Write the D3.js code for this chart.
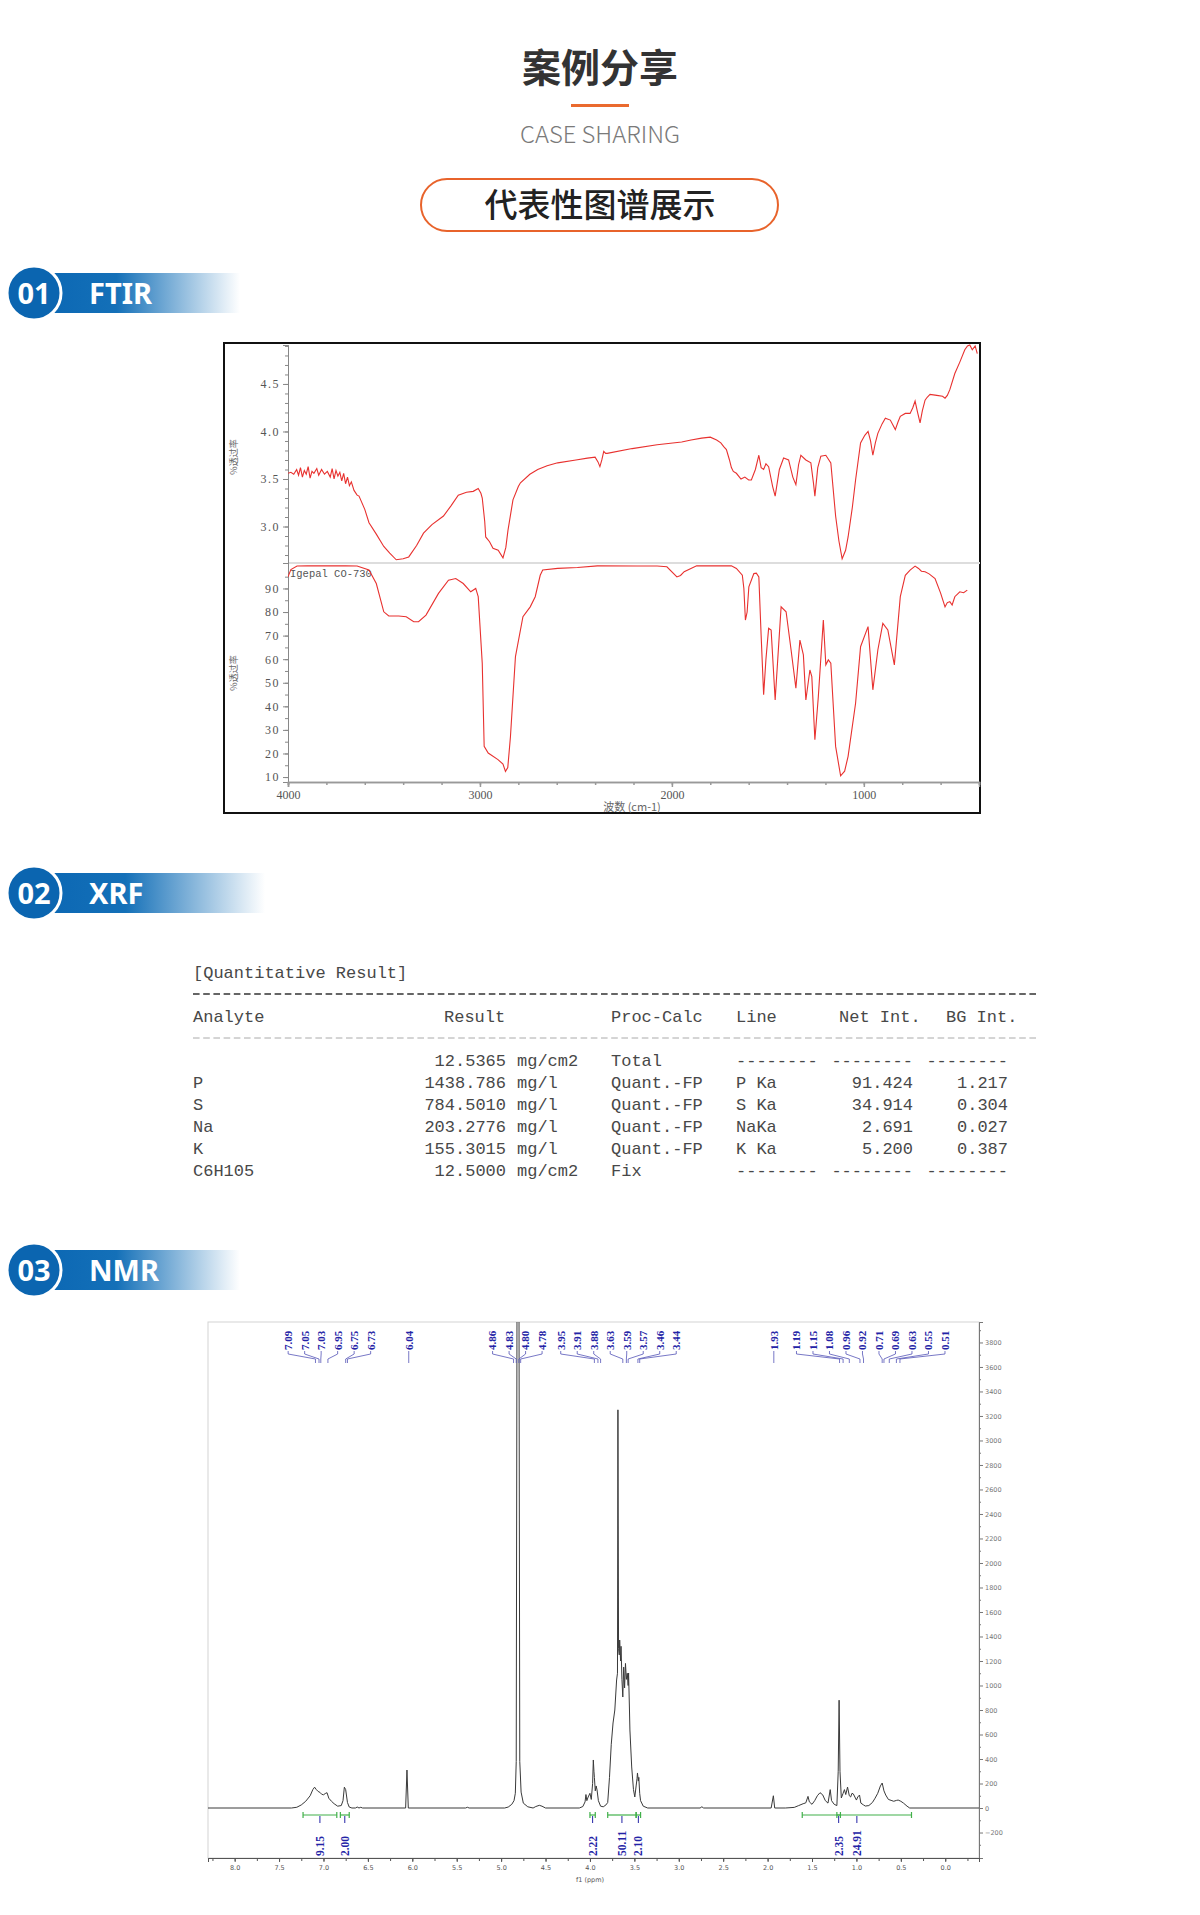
<!DOCTYPE html>
<html>
<head>
<meta charset="utf-8">
<script src="https://cdn.jsdelivr.net/npm/d3@7"></script>
<style>
  body { margin: 0; background: #fff; }
  svg { display: block; }
</style>
</head>
<body>
<svg id="page" width="1200" height="1915"></svg>
<script>
// ---------- FTIR: sample spectrum (top panel) ----------
const ftirTopWave = [4000,3985,3970,3955,3945,3935,3925,3915,3905,3895,3885,3875,3865,3850,3840,3825,3810,3795,3780,3770,3760,3750,3740,3730,3720,3710,3700,3690,3680,3670,3656,3640,3630,3600,3578,3540,3501,3470,3436,3400,3371,3330,3294,3250,3190,3150,3113,3070,3035,3009,2995,2988,2975,2970,2950,2932,2905,2880,2865,2854,2828,2800,2789,2740,2699,2650,2595,2500,2440,2400,2385,2375,2365,2355,2345,2337,2207,2077,1949,1900,1845,1800,1767,1745,1730,1716,1700,1690,1680,1664,1640,1620,1600,1586,1565,1547,1535,1522,1510,1496,1475,1462,1440,1418,1392,1370,1354,1340,1328,1302,1276,1262,1255,1240,1224,1198,1172,1147,1130,1113,1095,1082,1060,1043,1017,995,978,965,953,940,927,905,888,862,836,822,810,784,759,745,733,720,707,695,681,670,655,620,590,577,565,552,526,500,474,460,448,435,420,409];
const ftirTopVal = [3.56,3.57,3.55,3.60,3.54,3.62,3.52,3.59,3.55,3.63,3.51,3.58,3.56,3.61,3.54,3.60,3.55,3.58,3.52,3.61,3.50,3.59,3.53,3.57,3.48,3.56,3.45,3.52,3.43,3.47,3.38,3.33,3.32,3.18,3.04,2.92,2.79,2.72,2.65,2.66,2.68,2.80,2.93,3.02,3.11,3.22,3.33,3.36,3.37,3.40,3.35,3.30,3.05,2.89,2.84,2.77,2.75,2.67,2.78,2.96,3.28,3.42,3.46,3.55,3.60,3.64,3.67,3.70,3.72,3.73,3.68,3.63,3.70,3.79,3.77,3.77,3.82,3.86,3.89,3.91,3.93,3.94,3.91,3.88,3.84,3.81,3.70,3.62,3.58,3.56,3.50,3.52,3.49,3.49,3.60,3.75,3.62,3.60,3.66,3.63,3.42,3.32,3.60,3.72,3.70,3.52,3.44,3.65,3.75,3.70,3.67,3.45,3.32,3.62,3.74,3.75,3.67,3.11,2.85,2.66,2.75,2.89,3.20,3.49,3.88,3.96,4.00,3.90,3.75,3.88,3.98,4.08,4.14,4.12,4.02,4.10,4.16,4.19,4.19,4.25,4.32,4.20,4.09,4.22,4.33,4.36,4.39,4.38,4.37,4.35,4.38,4.44,4.61,4.73,4.86,4.90,4.91,4.86,4.90,4.82];

// ---------- FTIR: Igepal CO-730 reference (bottom panel, %T) ----------
const ftirBotWave = [4000,3985,3953,3900,3800,3700,3640,3578,3540,3501,3475,3423,3384,3345,3320,3281,3216,3164,3126,3087,3048,3022,3009,2988,2978,2957,2906,2880,2867,2855,2841,2815,2776,2738,2712,2686,2673,2595,2492,2388,2181,2077,2026,1974,1955,1936,1871,1690,1664,1633,1625,1617,1608,1599,1573,1560,1547,1535,1522,1510,1496,1483,1462,1431,1405,1379,1354,1333,1315,1302,1281,1271,1255,1237,1211,1198,1185,1172,1147,1121,1100,1082,1043,1017,978,953,927,901,875,841,810,784,759,733,715,700,681,660,629,600,577,565,552,540,526,500,480,461];
const ftirBotVal = [94.9,98.0,99.5,99.6,99.6,99.6,99.5,97.8,92.1,80.1,78.3,78.3,78.0,75.9,75.9,78.7,87.9,93.5,94.2,92.1,88.6,90.0,86.5,58.3,23.0,20.2,17.4,15.5,12.4,14.0,27.2,61.1,78.0,82.2,86.5,95.6,97.8,98.5,98.9,99.6,99.5,99.5,99.2,94.9,95.5,97.1,99.6,99.6,98.5,95.6,90.0,76.6,80.0,90.7,96.3,96.5,94.9,70.0,44.9,60.0,73.1,72.4,42.7,82.2,80.1,63.9,47.7,68.1,61.8,42.7,55.4,52.6,25.8,44.2,76.6,57.6,59.7,58.3,23.0,10.5,12.5,18.8,41.3,65.3,73.8,47.0,63.9,75.2,72.4,57.6,86.5,95.6,97.8,99.5,98.5,97.3,97.1,96.2,94.2,88.0,82.2,84.0,84.4,83.0,86.5,88.6,88.2,89.3];

const ftirTopTicks = [3.0, 3.5, 4.0, 4.5];
const ftirBotTicks = [10, 20, 30, 40, 50, 60, 70, 80, 90];
const ftirXTicks = [4000, 3000, 2000, 1000];

// ---------- XRF table ----------
const xrfHeaders = ['Analyte', 'Result', 'Proc-Calc', 'Line', 'Net Int.', 'BG Int.'];
const xrfAnalytes = ['', 'P', 'S', 'Na', 'K', 'C6H105'];
const xrfResults = ['12.5365', '1438.786', '784.5010', '203.2776', '155.3015', '12.5000'];
const xrfUnits = ['mg/cm2', 'mg/l', 'mg/l', 'mg/l', 'mg/l', 'mg/cm2'];
const xrfCalc = ['Total', 'Quant.-FP', 'Quant.-FP', 'Quant.-FP', 'Quant.-FP', 'Fix'];
const xrfLines = ['--------', 'P Ka', 'S Ka', 'NaKa', 'K Ka', '--------'];
const xrfNet = ['--------', '91.424', '34.914', '2.691', '5.200', '--------'];
const xrfBG = ['--------', '1.217', '0.304', '0.027', '0.387', '--------'];

// ---------- 1H NMR ----------
const nmrPpm = [8.30,7.36,7.30,7.25,7.20,7.15,7.12,7.10,7.08,7.06,7.04,7.02,7.00,6.98,6.96,6.94,6.91,6.88,6.84,6.80,6.78,6.765,6.75,6.73,6.71,6.68,6.64,6.62,6.60,6.58,6.56,6.075,6.06,6.045,5.40,5.38,5.36,4.96,4.92,4.88,4.855,4.84,4.83,4.82,4.80,4.79,4.775,4.75,4.70,4.64,4.61,4.57,4.54,4.50,4.12,4.08,4.055,4.045,4.035,4.02,4.00,3.985,3.97,3.962,3.955,3.95,3.94,3.93,3.92,3.905,3.88,3.85,3.82,3.80,3.78,3.76,3.74,3.72,3.70,3.69,3.685,3.678,3.67,3.665,3.655,3.65,3.64,3.63,3.62,3.61,3.60,3.59,3.58,3.57,3.565,3.555,3.55,3.53,3.51,3.495,3.48,3.47,3.465,3.455,3.45,3.44,3.43,3.40,3.35,2.76,2.74,2.72,1.96,1.935,1.92,1.80,1.70,1.65,1.60,1.57,1.545,1.53,1.50,1.47,1.44,1.41,1.38,1.35,1.32,1.295,1.28,1.25,1.22,1.205,1.195,1.185,1.17,1.15,1.135,1.12,1.10,1.08,1.065,1.05,1.035,1.00,0.985,0.965,0.95,0.92,0.90,0.86,0.82,0.79,0.76,0.73,0.71,0.69,0.67,0.64,0.60,0.58,0.55,0.53,0.50,0.47,0.43,0.40,-0.38];
const nmrVal = [0,0,6,25,55,100,150,170,150,135,128,112,108,118,125,80,55,35,15,20,60,170,150,45,8,0,0,8,0,6,0,0,310,0,0,6,0,0,8,30,60,120,380,4600,4600,380,130,40,10,0,12,22,15,0,0,12,50,110,60,90,120,70,200,392,300,250,140,180,147,60,15,10,25,45,250,520,694,800,1045,1100,3250,1300,1250,1371,1200,1320,1050,906,1150,980,1180,1050,1100,1000,1102,800,637,335,150,90,180,240,286,220,250,120,60,15,0,0,10,0,0,100,0,0,5,20,35,42,95,50,30,60,100,125,108,60,40,150,60,30,20,300,880,300,82,120,150,110,171,100,90,120,115,65,90,106,40,25,16,20,45,80,120,180,204,140,106,70,60,55,62,65,55,40,15,0,0];

const nmrPeaks = ['7.09','7.05','7.03','6.95','6.75','6.73','6.04','4.86','4.83','4.80','4.78','3.95','3.91','3.88','3.63','3.59','3.57','3.46','3.44','1.93','1.19','1.15','1.08','0.96','0.92','0.71','0.69','0.63','0.55','0.51'];
const nmrIntegrals = [[7.23, 6.85], [6.81, 6.71], [4.00, 3.94], [3.80, 3.48], [3.48, 3.43], [1.22, 1.18], [1.61, 0.38]];
const nmrIntegralVals = ['9.15', '2.00', '2.22', '50.11', '2.10', '2.35', '24.91'];
const nmrXTicks = d3.range(0, 8.01, 0.5);
const nmrYTicks = d3.range(-200, 3801, 200);

// =====================================================================
const svg = d3.select('#page');
const defs = svg.append('defs');
const CJK = '"Noto Sans CJK SC", "Noto Sans", sans-serif';

// ---------- page header ----------
svg.append('text')
  .attr('x', 600).attr('y', 82)
  .attr('text-anchor', 'middle')
  .attr('font-family', CJK).attr('font-weight', 700).attr('font-size', 39)
  .attr('fill', '#333')
  .text('案例分享');

svg.append('rect')
  .attr('x', 571).attr('y', 104).attr('width', 58).attr('height', 3)
  .attr('fill', '#ea6a2e');

svg.append('text')
  .attr('x', 600).attr('y', 143)
  .attr('text-anchor', 'middle')
  .attr('font-family', CJK).attr('font-weight', 300).attr('font-size', 23)
  .attr('fill', '#7a7a7a')
  .attr('textLength', 160).attr('lengthAdjust', 'spacingAndGlyphs')
  .text('CASE SHARING');

svg.append('rect')
  .attr('x', 421).attr('y', 179).attr('width', 357).attr('height', 52)
  .attr('rx', 26)
  .attr('fill', '#fff').attr('stroke', '#e8632b').attr('stroke-width', 2);

svg.append('text')
  .attr('x', 600).attr('y', 217)
  .attr('text-anchor', 'middle')
  .attr('font-family', CJK).attr('font-weight', 500).attr('font-size', 33)
  .attr('fill', '#222')
  .text('代表性图谱展示');

// ---------- section badges ----------
const grad = defs.append('linearGradient').attr('id', 'badgeGrad');
grad.append('stop').attr('offset', '0%').attr('stop-color', '#0c68b4');
grad.append('stop').attr('offset', '35%').attr('stop-color', '#1470b8');
grad.append('stop').attr('offset', '100%').attr('stop-color', '#ffffff');

function badge(num, label, cy, barEnd) {
  const g = svg.append('g');
  g.append('rect')
    .attr('x', 50).attr('y', cy - 20)
    .attr('width', barEnd - 50).attr('height', 40)
    .attr('fill', 'url(#badgeGrad)');
  g.append('circle')
    .attr('cx', 34).attr('cy', cy).attr('r', 27)
    .attr('fill', '#0b65b0').attr('stroke', '#fff').attr('stroke-width', 3);
  g.append('text')
    .attr('x', 34).attr('y', cy + 11)
    .attr('text-anchor', 'middle')
    .attr('font-family', '"Noto Sans", sans-serif').attr('font-weight', 700).attr('font-size', 29)
    .attr('fill', '#fff')
    .text(num);
  g.append('text')
    .attr('x', 89).attr('y', cy + 11)
    .attr('font-family', '"Noto Sans", sans-serif').attr('font-weight', 700).attr('font-size', 29)
    .attr('fill', '#fff')
    .text(label);
}
badge('01', 'FTIR', 293, 240);
badge('02', 'XRF', 893, 265);
badge('03', 'NMR', 1270, 240);

// ---------- FTIR chart ----------
const ftir = svg.append('g');
const fx = d3.scaleLinear().domain([4000, 400]).range([288, 979]);
const fyTop = d3.scaleLinear().domain([2.616, 4.91]).range([563, 345]);
const fyBot = d3.scaleLinear().domain([7.9, 100.8]).range([782, 563]);

defs.append('clipPath').attr('id', 'ftirClip')
  .append('rect').attr('x', 288).attr('y', 344).attr('width', 692).attr('height', 440);

ftir.append('rect')
  .attr('x', 224).attr('y', 343).attr('width', 756).attr('height', 470)
  .attr('fill', '#fff').attr('stroke', '#111').attr('stroke-width', 2);

// panel separator
ftir.append('line')
  .attr('x1', 288).attr('x2', 980).attr('y1', 563).attr('y2', 563)
  .attr('stroke', '#ddd').attr('stroke-width', 2);

const axisFont = g => g.selectAll('text')
  .attr('font-family', '"Liberation Serif", serif').attr('font-size', 12)
  .attr('fill', '#555').attr('letter-spacing', 1.5);

// left axes
ftir.append('g').attr('transform', 'translate(288,0)')
  .call(d3.axisLeft(fyTop).tickValues(d3.range(2.7, 4.91, 0.1)).tickSize(3).tickFormat(''))
  .call(g => g.selectAll('line,path').attr('stroke', '#888'));
ftir.append('g').attr('transform', 'translate(288,0)')
  .call(d3.axisLeft(fyTop).tickValues(ftirTopTicks).tickSize(5).tickFormat(d3.format('.1f')))
  .call(g => g.selectAll('line,path').attr('stroke', '#888'))
  .call(axisFont);
ftir.append('g').attr('transform', 'translate(288,0)')
  .call(d3.axisLeft(fyBot).tickValues(d3.range(10, 100, 5)).tickSize(3).tickFormat(''))
  .call(g => g.selectAll('line,path').attr('stroke', '#888'));
ftir.append('g').attr('transform', 'translate(288,0)')
  .call(d3.axisLeft(fyBot).tickValues(ftirBotTicks).tickSize(5))
  .call(g => g.selectAll('line,path').attr('stroke', '#888'))
  .call(axisFont);

// bottom axis
ftir.append('g').attr('transform', 'translate(0,782)')
  .call(d3.axisBottom(fx).tickValues(d3.range(4000, 399, -200)).tickSize(3).tickFormat(''))
  .call(g => g.selectAll('line,path').attr('stroke', '#999').attr('stroke-width', 1.5));
ftir.append('g').attr('transform', 'translate(0,782)')
  .call(d3.axisBottom(fx).tickValues(ftirXTicks).tickSize(5).tickPadding(3).tickFormat(d3.format('d')))
  .call(g => g.selectAll('line,path').attr('stroke', '#999').attr('stroke-width', 1.5))
  .call(axisFont)
  .call(g => g.selectAll('text').attr('letter-spacing', 0));

ftir.append('text')
  .attr('x', 632).attr('y', 811).attr('text-anchor', 'middle')
  .attr('font-family', CJK).attr('font-size', 11).attr('fill', '#666')
  .text('波数 (cm-1)');

[[457], [673]].forEach(([cy]) => {
  ftir.append('text')
    .attr('transform', `translate(237,${cy}) rotate(-90)`)
    .attr('text-anchor', 'middle')
    .attr('font-family', CJK).attr('font-size', 9).attr('fill', '#666')
    .text('%透过率');
});

ftir.append('text')
  .attr('x', 290).attr('y', 577)
  .attr('font-family', '"Liberation Mono", monospace').attr('font-size', 10.5).attr('fill', '#555')
  .text('Igepal CO-730');

const topLine = d3.line().x((d, i) => fx(ftirTopWave[i])).y(d => fyTop(d));
const botLine = d3.line().x((d, i) => fx(ftirBotWave[i])).y(d => fyBot(d));
const spectra = ftir.append('g').attr('clip-path', 'url(#ftirClip)');
spectra.append('path').attr('d', topLine(ftirTopVal))
  .attr('fill', 'none').attr('stroke', '#e8312f').attr('stroke-width', 1.1);
spectra.append('path').attr('d', botLine(ftirBotVal))
  .attr('fill', 'none').attr('stroke', '#e8312f').attr('stroke-width', 1.1);

// ---------- XRF table ----------
const xrf = svg.append('g')
  .attr('font-family', '"Liberation Mono", "DejaVu Sans Mono", monospace')
  .attr('font-size', 17).attr('fill', '#484848');

xrf.append('text').attr('x', 193).attr('y', 978).text('[Quantitative Result]');
xrf.append('line')
  .attr('x1', 193).attr('x2', 1038).attr('y1', 994).attr('y2', 994)
  .attr('stroke', '#333').attr('stroke-width', 1.4).attr('stroke-dasharray', '6.6,3.6');
xrf.append('line')
  .attr('x1', 193).attr('x2', 1038).attr('y1', 1038).attr('y2', 1038)
  .attr('stroke', '#aaa').attr('stroke-width', 1).attr('stroke-dasharray', '6.6,3.6');

const headerX = [193, 444, 611, 736, 839, 946];
xrf.selectAll('.hdr').data(xrfHeaders).join('text')
  .attr('class', 'hdr')
  .attr('x', (d, i) => headerX[i]).attr('y', 1022)
  .text(d => d);

const rowY = i => 1066 + i * 22;
const rows = xrf.selectAll('.row').data(xrfResults).join('g')
  .attr('class', 'row')
  .attr('transform', (d, i) => `translate(0,${rowY(i)})`);
rows.append('text').attr('x', 193).text((d, i) => xrfAnalytes[i]);
rows.append('text').attr('x', 506).attr('text-anchor', 'end').text(d => d);
rows.append('text').attr('x', 517).text((d, i) => xrfUnits[i]);
rows.append('text').attr('x', 611).text((d, i) => xrfCalc[i]);
rows.append('text').attr('x', 736).text((d, i) => xrfLines[i]);
rows.append('text').attr('x', 913).attr('text-anchor', 'end').text((d, i) => xrfNet[i]);
rows.append('text').attr('x', 1008).attr('text-anchor', 'end').text((d, i) => xrfBG[i]);

// ---------- NMR chart ----------
const nmr = svg.append('g');
const nx = d3.scaleLinear().domain([8.3, -0.38]).range([208, 979]);
const ny = d3.scaleLinear().domain([-408, 3967]).range([1858, 1322]);

defs.append('clipPath').attr('id', 'nmrClip')
  .append('rect').attr('x', 208).attr('y', 1322).attr('width', 771).attr('height', 536);

nmr.append('rect')
  .attr('x', 208).attr('y', 1322).attr('width', 771).attr('height', 536)
  .attr('fill', '#fff').attr('stroke', '#d4d4d4').attr('stroke-width', 1);

// right intensity axis
nmr.append('g').attr('transform', 'translate(979,0)')
  .call(d3.axisRight(ny).tickValues(d3.range(-300, 3901, 200)).tickSize(2).tickFormat(''))
  .call(g => g.selectAll('line,path').attr('stroke', '#777'));
nmr.append('g').attr('transform', 'translate(979,0)')
  .call(d3.axisRight(ny).tickValues(nmrYTicks).tickSize(4).tickPadding(2).tickFormat(d3.format('d')))
  .call(g => g.selectAll('line,path').attr('stroke', '#777'))
  .call(g => g.selectAll('text').attr('font-family', '"DejaVu Sans", sans-serif')
    .attr('font-size', 6.5).attr('fill', '#777'));

// bottom ppm axis
nmr.append('g').attr('transform', 'translate(0,1858)')
  .call(d3.axisBottom(nx).tickValues(d3.range(-0.25, 8.3, 0.25)).tickSize(3).tickFormat(''))
  .call(g => g.selectAll('line,path').attr('stroke', '#555'));
nmr.append('g').attr('transform', 'translate(0,1858)')
  .call(d3.axisBottom(nx).tickValues(nmrXTicks).tickSize(4).tickPadding(3).tickFormat(d3.format('.1f')))
  .call(g => g.selectAll('line,path').attr('stroke', '#555'))
  .call(g => g.selectAll('text').attr('font-family', '"DejaVu Sans", sans-serif')
    .attr('font-size', 6.5).attr('fill', '#555'));
nmr.append('text')
  .attr('x', 590).attr('y', 1882).attr('text-anchor', 'middle')
  .attr('font-family', '"DejaVu Sans", sans-serif').attr('font-size', 6.5).attr('fill', '#555')
  .text('f1 (ppm)');

// spectrum
const nmrLine = d3.line().x((d, i) => nx(nmrPpm[i])).y(d => ny(d));
nmr.append('g').attr('clip-path', 'url(#nmrClip)')
  .append('path').attr('d', nmrLine(nmrVal))
  .attr('fill', 'none').attr('stroke', '#3a3a3a').attr('stroke-width', 1);

// peak labels: spread overlapping labels apart, centred on their peaks
function spread(xs, gap) {
  let groups = xs.map((x, i) => ({ first: i, n: 1, c: x }));
  let merged = true;
  while (merged) {
    merged = false;
    for (let i = 0; i < groups.length - 1; i++) {
      const a = groups[i], b = groups[i + 1];
      const aEnd = a.c + (a.n - 1) * gap / 2;
      const bStart = b.c - (b.n - 1) * gap / 2;
      if (bStart - aEnd < gap) {
        const n = a.n + b.n;
        const c = d3.mean(xs.slice(a.first, a.first + n));
        groups.splice(i, 2, { first: a.first, n: n, c: c });
        merged = true;
        break;
      }
    }
  }
  const out = [];
  groups.forEach(g => {
    for (let k = 0; k < g.n; k++) out.push(g.c + (k - (g.n - 1) / 2) * gap);
  });
  return out;
}
const peakX = nmrPeaks.map(p => nx(+p));
const labelX = spread(peakX, 16.5);
const navy = '#2323a6';

nmr.selectAll('.pk-link').data(nmrPeaks).join('path')
  .attr('class', 'pk-link')
  .attr('d', (d, i) => `M${labelX[i]},1351V1354L${peakX[i]},1359V1363`)
  .attr('fill', 'none').attr('stroke', '#5555b8').attr('stroke-width', 0.8);
nmr.selectAll('.pk-label').data(nmrPeaks).join('text')
  .attr('class', 'pk-label')
  .attr('transform', (d, i) => `translate(${labelX[i]},1350) rotate(-90)`)
  .attr('dy', '0.35em')
  .attr('font-family', '"Liberation Serif", serif').attr('font-weight', 700).attr('font-size', 11)
  .attr('fill', navy)
  .text(d => d);

// integrals
const integ = nmr.selectAll('.integ').data(nmrIntegrals).join('g').attr('class', 'integ');
integ.append('line')
  .attr('x1', d => nx(d[0])).attr('x2', d => nx(d[1]))
  .attr('y1', 1815).attr('y2', 1815)
  .attr('stroke', '#41b04a').attr('stroke-width', 1.2);
integ.append('path')
  .attr('d', d => `M${nx(d[0])},1812V1818M${nx(d[1])},1812V1818`)
  .attr('stroke', '#41b04a').attr('stroke-width', 1.2);
integ.append('line')
  .attr('x1', d => nx((d[0] + d[1]) / 2)).attr('x2', d => nx((d[0] + d[1]) / 2))
  .attr('y1', 1816).attr('y2', 1823)
  .attr('stroke', navy).attr('stroke-width', 1);
integ.append('text')
  .attr('transform', d => `translate(${nx((d[0] + d[1]) / 2)},1856) rotate(-90)`)
  .attr('dy', '0.35em')
  .attr('font-family', '"Liberation Serif", serif').attr('font-weight', 700).attr('font-size', 11.5)
  .attr('fill', navy)
  .text((d, i) => nmrIntegralVals[i]);
</script>
</body>
</html>
